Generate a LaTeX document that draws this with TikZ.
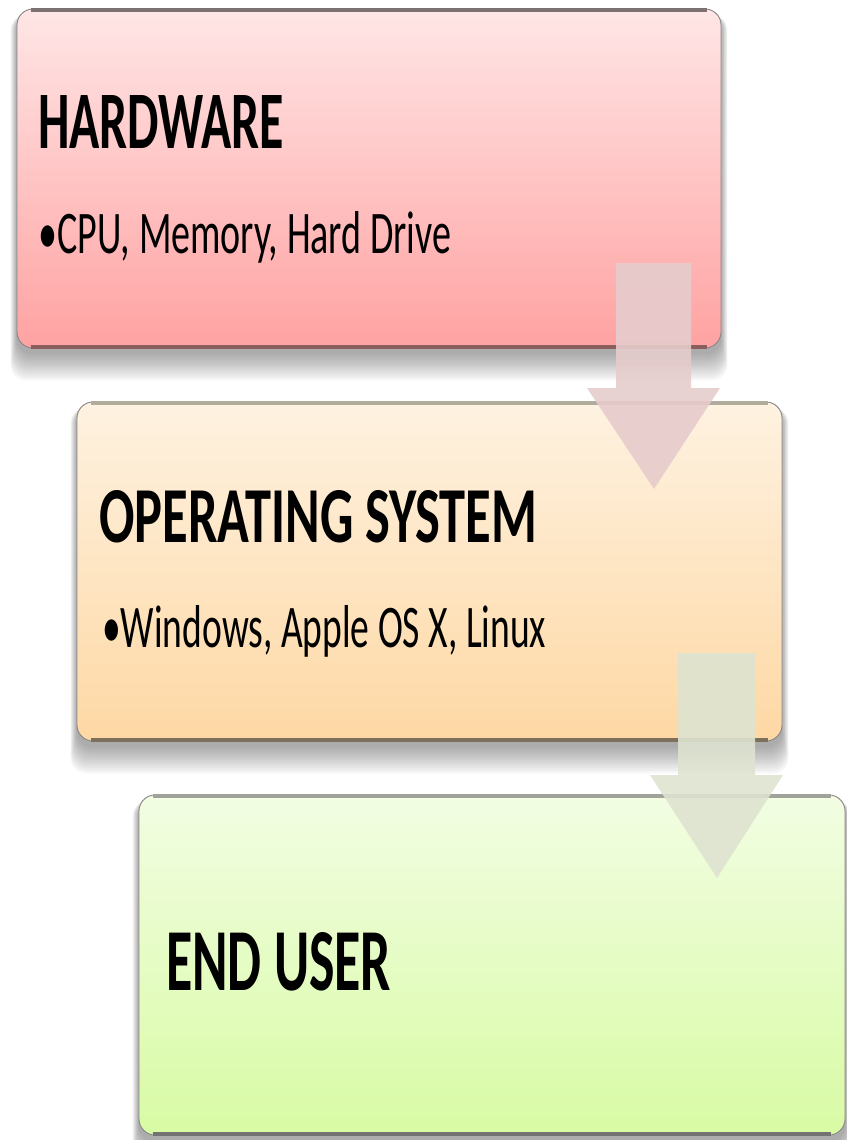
\documentclass[tikz,border=0pt]{standalone}
\usepackage{fontspec}
\usepackage{graphicx}
\setmainfont{Carlito}
\usetikzlibrary{backgrounds}
\definecolor{hwtop}{HTML}{FFE6E6}
\definecolor{hwbot}{HTML}{FFA2A2}
\definecolor{ostop}{HTML}{FEF2E1}
\definecolor{osbot}{HTML}{FED8A4}
\definecolor{eutop}{HTML}{F2FDE3}
\definecolor{eubot}{HTML}{D8FBA4}
\definecolor{hwline}{HTML}{7B7171}
\definecolor{hwlineb}{HTML}{8B5E5E}
\definecolor{oslinet}{HTML}{B3AB9C}
\definecolor{oslineb}{HTML}{7C705C}
\definecolor{eulinet}{HTML}{A0A39A}
\definecolor{eulineb}{HTML}{727272}
\definecolor{sideline}{HTML}{8A8585}
\definecolor{arrowa}{HTML}{E6CCCC}
\definecolor{arrowb}{HTML}{DEE3D0}
\begin{document}
\begin{tikzpicture}[x=1pt,y=-1pt,
  box/.style={draw=sideline, line width=0.9pt, rounded corners=16pt, inner sep=0pt},
  edgeline/.style={line width=4pt, draw=#1},
  txt/.style={inner sep=0pt, anchor=base west, text=black},
  blockarrow/.style={fill=#1, opacity=0.9, draw=none}
]
\useasboundingbox (0,0) rectangle (846,1140);

% boxes
\node[box, minimum width=704pt, minimum height=339pt, top color=hwtop, bottom color=hwbot] (hw) at (369,178.5) {};
\node[box, minimum width=705pt, minimum height=339pt, top color=ostop, bottom color=osbot] (os) at (429.5,571.5) {};
\node[box, minimum width=706pt, minimum height=340pt, top color=eutop, bottom color=eubot] (eu) at (492,965) {};

% thick top / bottom edges
\draw[edgeline=hwline]  ([xshift=14pt,yshift=-1.5pt]hw.north west) -- ([xshift=-14pt,yshift=-1.5pt]hw.north east);
\draw[edgeline=hwlineb] ([xshift=14pt,yshift=1.5pt]hw.south west) -- ([xshift=-14pt,yshift=1.5pt]hw.south east);
\draw[edgeline=oslinet] ([xshift=14pt,yshift=-1.5pt]os.north west) -- ([xshift=-14pt,yshift=-1.5pt]os.north east);
\draw[edgeline=oslineb] ([xshift=14pt,yshift=1.5pt]os.south west) -- ([xshift=-14pt,yshift=1.5pt]os.south east);
\draw[edgeline=eulinet] ([xshift=14pt,yshift=-1.5pt]eu.north west) -- ([xshift=-14pt,yshift=-1.5pt]eu.north east);
\draw[edgeline=eulineb] ([xshift=14pt,yshift=1.5pt]eu.south west) -- ([xshift=-14pt,yshift=1.5pt]eu.south east);

% shadows
\begin{scope}[on background layer]
\foreach \n in {hw,os,eu}{
  \foreach \k in {0,...,10}{
    \fill[black, opacity=0.035, rounded corners=16pt]
      ([xshift={-0.6pt*\k}, yshift=-6pt]\n.north west) rectangle
      ([xshift={0.6pt*\k}, yshift={-6pt-2.6pt*\k}]\n.south east);
  }
}
\end{scope}

% texts
\node[txt] (hwt) at (38,148) {\resizebox{246pt}{53pt}{\bfseries HARDWARE}};
\node[txt] (hwb) at (38,253) {\resizebox{413pt}{42pt}{•CPU, Memory, Hard Drive}};
\node[txt] (ost) at (99,542) {\resizebox{438pt}{52pt}{\bfseries OPERATING SYSTEM}};
\node[txt] (osb) at (102,647) {\resizebox{444pt}{42pt}{•Windows, Apple OS X, Linux}};
\node[txt] (eut) at (166,990) {\resizebox{225pt}{58pt}{\bfseries END USER}};

% block arrows
\fill[blockarrow=arrowa] (616,263) -- (691,263) -- (691,388) -- (720,388) -- (654,489) -- (587,388) -- (616,388) -- cycle;
\fill[blockarrow=arrowb] (678,653) -- (755,653) -- (755,775) -- (783,775) -- (717,878) -- (650,775) -- (678,775) -- cycle;
\end{tikzpicture}
\end{document}
